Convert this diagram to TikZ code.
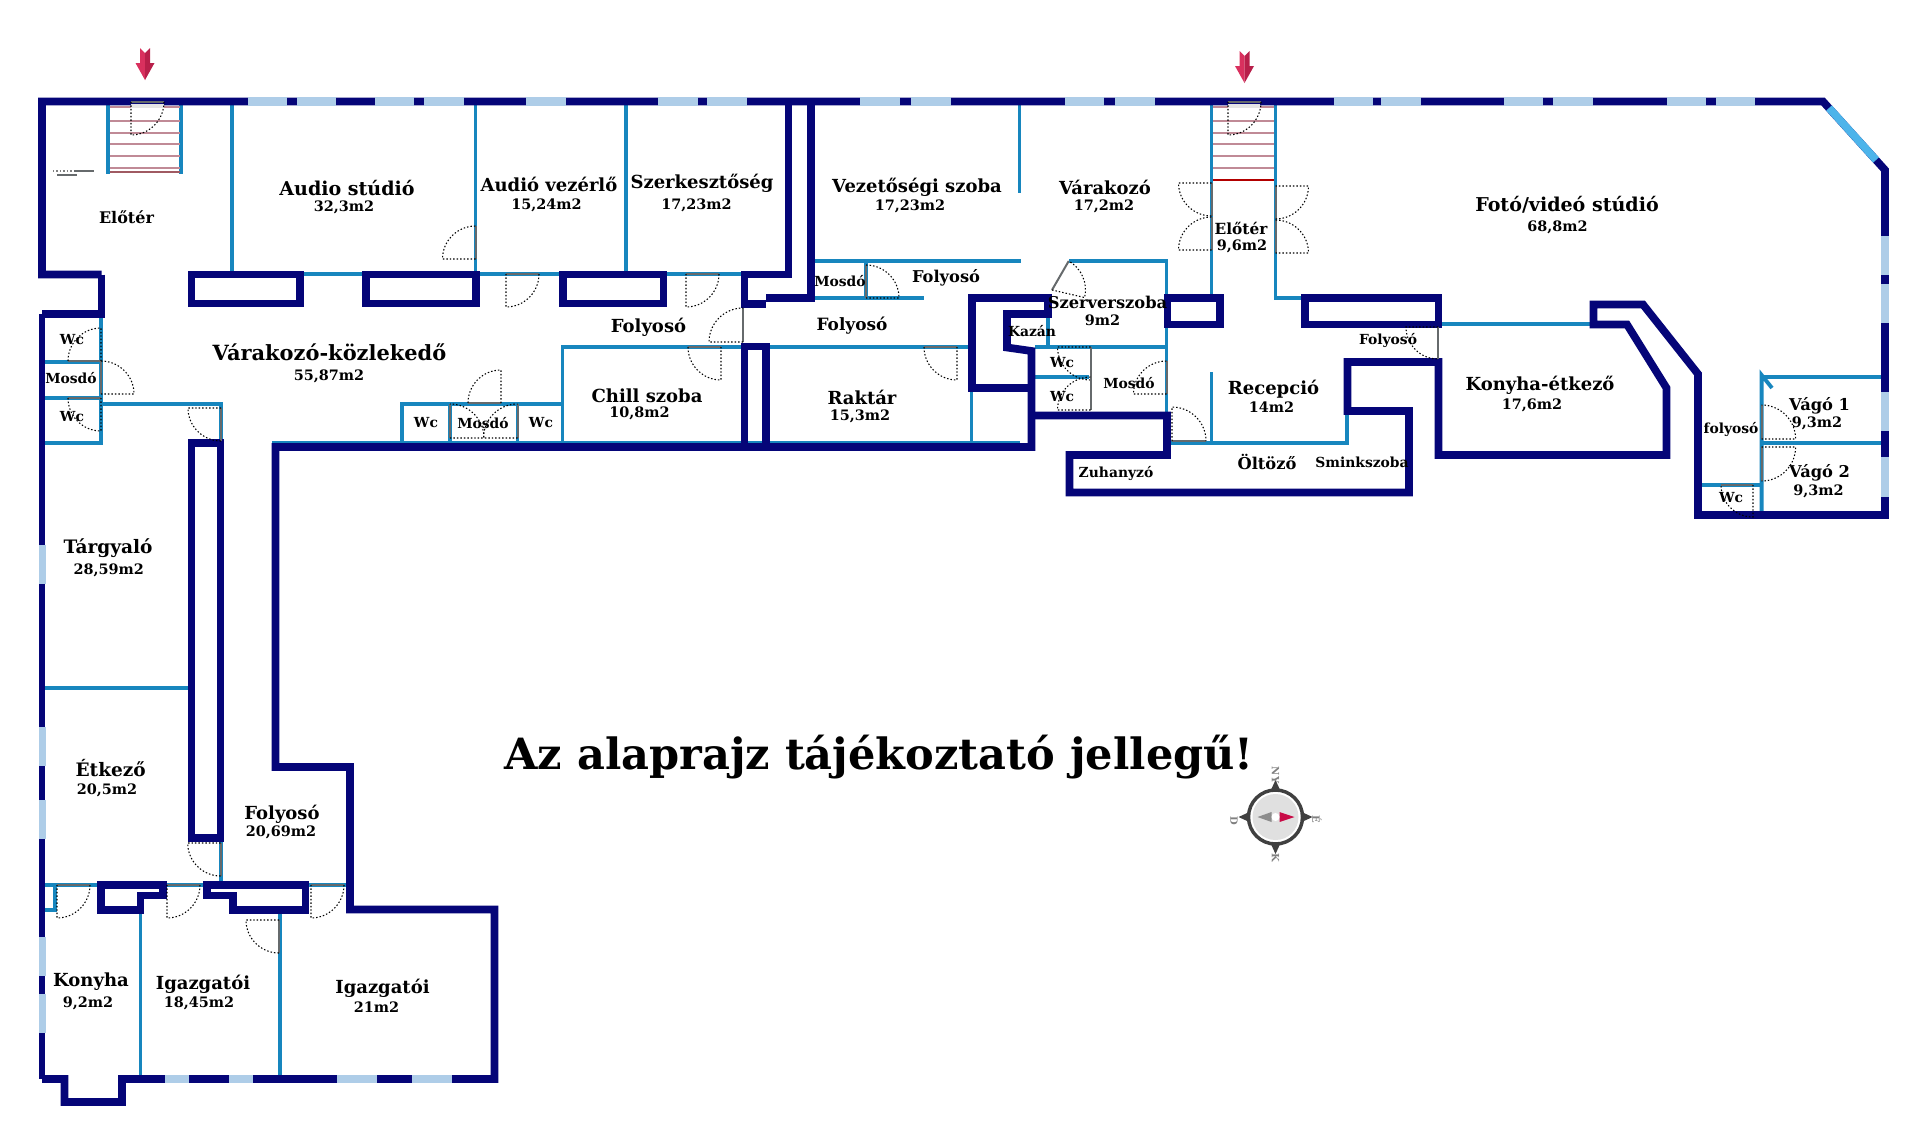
\documentclass[tikz,border=0pt]{standalone}
\usepackage{fontspec}
\setmainfont{DejaVu Serif}
\definecolor{wallnavy}{HTML}{050578}
\definecolor{partblue}{HTML}{1786BE}
\definecolor{glassblue}{HTML}{AECDE8}
\definecolor{chamferblue}{HTML}{4DB4EA}
\definecolor{stairred}{HTML}{C08A96}
\definecolor{stairdark}{HTML}{A05A62}
\definecolor{jambgray}{HTML}{666A6C}
\tikzset{
  wall/.style={draw=wallnavy, line width=5.8pt, line join=miter, line cap=square},
  partition/.style={draw=partblue, line width=2.9pt, line cap=butt},
  glass/.style={fill=glassblue, draw=none},
  stairline/.style={draw=stairred, line width=0.8pt},
  doorjamb/.style={draw=jambgray, line width=1.5pt},
  doorswing/.style={draw=black, line width=0.8pt, dash pattern=on 1.1pt off 1.5pt},
  namelabel/.style={inner sep=0pt, font=\bfseries\fontsize{13.5pt}{14pt}\selectfont},
  widelabel/.style={inner sep=0pt, font=\bfseries\fontsize{14.3pt}{15pt}\selectfont},
  bignamelabel/.style={inner sep=0pt, font=\bfseries\fontsize{15.7pt}{16pt}\selectfont},
  midlabel/.style={inner sep=0pt, font=\bfseries\fontsize{12.2pt}{13pt}\selectfont},
  arealabel/.style={inner sep=0pt, font=\bfseries\fontsize{10.8pt}{11pt}\selectfont},
  smalllabel/.style={inner sep=0pt, font=\bfseries\fontsize{10.4pt}{11pt}\selectfont},
  tinylabel/.style={inner sep=0pt, text=black!50, font=\bfseries\fontsize{7.5pt}{8pt}\selectfont, rotate=-90},
}
% hinge x, hinge y, jamb angle, leaf angle, radius
\newcommand{\door}[5]{
  \draw[doorjamb] (#1,#2) -- ++(#3:#5);
  \draw[doorswing] (#1,#2) -- ++(#4:#5) arc[start angle=#4, end angle=#3, radius=#5];
}
\newcommand{\entryarrow}[2]{
  \begin{scope}[shift={(#1,#2)}]
    \fill[fill={rgb,255:red,217;green,48;blue,94}] (-5,0) -- (0,5) -- (0,32) -- (-9.5,15) -- (-5,15) -- cycle;
    \fill[fill={rgb,255:red,184;green,31;blue,74}] (5,0) -- (0,5) -- (0,32) -- (9.5,15) -- (5,15) -- cycle;
  \end{scope}
}
\begin{document}
\begin{tikzpicture}[x=0.75pt, y=0.75pt, yscale=-1]
  \useasboundingbox (0,0) rectangle (1920,1136);
  % Partitions
  \draw[partition] (108,105) -- (108,174);
  \draw[partition] (181,105) -- (181,174);
  \draw[partition] (232,105) -- (232,271);
  \draw[partition] (475.5,105) -- (475.5,271);
  \draw[partition] (626,105) -- (626,271);
  \draw[partition] (304,274) -- (362,274);
  \draw[partition] (480,274) -- (559,274);
  \draw[partition] (667,274) -- (741,274);
  \draw[partition] (101,317) -- (101,443) -- (45,443);
  \draw[partition] (45,362) -- (101,362);
  \draw[partition] (45,398) -- (101,398);
  \draw[partition] (101,404) -- (221,404) -- (221,442);
  \draw[partition] (402,443) -- (402,404) -- (562.5,404);
  \draw[partition] (450,404) -- (450,443);
  \draw[partition] (517.5,404) -- (517.5,443);
  \draw[partition] (562.5,443) -- (562.5,347) -- (741,347);
  \draw[partition] (769,347) -- (968.5,347);
  \draw[partition] (272,442.5) -- (1020,442.5);
  \draw[partition] (815,261) -- (1021,261);
  \draw[partition] (815,298) -- (924,298);
  \draw[partition] (866,261) -- (866,298);
  \draw[partition] (1019.5,105) -- (1019.5,193);
  \draw[partition] (1069.3,261) -- (1166.5,261) -- (1166.5,412);
  \draw[partition] (1048,317) -- (1048,347);
  \draw[partition] (1035,347) -- (1166.5,347);
  \draw[partition] (1035,377) -- (1089,377);
  \draw[partition] (971.5,392) -- (971.5,443);
  \draw[partition] (1211.5,105) -- (1211.5,294);
  \draw[partition] (1275.5,105) -- (1275.5,298) -- (1301,298);
  \draw[partition] (1211.5,372) -- (1211.5,443);
  \draw[partition] (1171,443) -- (1347,443) -- (1347,414);
  \draw[partition] (1442,324) -- (1590,324);
  \draw[partition] (1772,388) -- (1761.6,375) -- (1761.6,511);
  \draw[partition] (1761,377) -- (1881,377);
  \draw[partition] (1761,443) -- (1881,443);
  \draw[partition] (1702,485) -- (1761,485);
  \draw[partition] (45,688) -- (188,688);
  \draw[partition] (45,885) -- (97,885);
  \draw[partition] (167,885) -- (203,885);
  \draw[partition] (309,885) -- (346,885);
  \draw[partition] (45,910) -- (55,910) -- (55,885);
  \draw[partition] (140.5,913) -- (140.5,1075);
  \draw[partition] (280,913) -- (280,1075);
  \draw[partition] (220.7,842) -- (220.7,881);
  % Outer walls
  \draw[wall] (101.5,274.5) -- (42,274.5) -- (42,101.5) -- (1823,101.5) -- (1885,170) -- (1885,515) -- (1698,515) -- (1698,374) -- (1643,304.5) -- (1593.5,304.5) -- (1593.5,324.5) -- (1627,324.5) -- (1666.5,388) -- (1666.5,455) -- (1438.5,455) -- (1438.5,362) -- (1347.5,362) -- (1347.5,411) -- (1409,411) -- (1409,492.5) -- (1069.5,492.5) -- (1069.5,455) -- (1167,455) -- (1167,415.5) -- (1031.5,415.5);
  \draw[wall] (101.5,274.5) -- (101.5,314) -- (42,314);
  \draw[wall, line width=4.6pt] (42,314) -- (42,1079);
  \draw[wall] (42,1079) -- (64.5,1079) -- (64.5,1102) -- (122,1102) -- (122,1079) -- (494.5,1079) -- (494.5,909.5) -- (350,909.5) -- (350,767) -- (275.5,767) -- (275.5,447) -- (1031.5,447) -- (1031.5,351) -- (1007,347.5) -- (1007,314) -- (1048,314) -- (1048,298) -- (972,298) -- (972,388) -- (1031.5,388);
  % Inner walls
  \draw[wall] (788.5,105) -- (788.5,274.5) -- (744.5,274.5) -- (744.5,304) -- (766,304);
  \draw[wall] (811,105) -- (811,298) -- (766,298);
  \draw[wall] (191.5,274.5) rectangle (300,303.5);
  \draw[wall] (366,274.5) rectangle (476,303.5);
  \draw[wall] (563,274.5) rectangle (663.5,303.5);
  \draw[wall] (744.5,346.5) rectangle (766,447);
  \draw[wall] (1167.5,298) rectangle (1220,324.5);
  \draw[wall] (1305,298) rectangle (1438.5,324.5);
  \draw[wall] (191.5,443) rectangle (220.5,838);
  \draw[wall] (101,885) -- (163,885) -- (163,895.5) -- (140.5,895.5) -- (140.5,910) -- (101,910) -- cycle;
  \draw[wall] (207,885) -- (305.5,885) -- (305.5,910) -- (233,910) -- (233,895.5) -- (207,895.5) -- cycle;
  % Windows
  \foreach \a/\b in {248/287,297/336,375/414,424/464,526/566,658/698,707/747,860/900,911/951,1064.5/1104,1115/1155,1334/1373,1381/1421,1504/1543,1553/1593,1667/1706,1715.5/1755}
    \fill[glass] (\a,97) rectangle (\b,106);
  \foreach \a/\b in {236/275,284/323,392/431,457/497}
    \fill[glass] (1881,\a) rectangle (1889,\b);
  \foreach \a/\b in {545/584,727/766,800/839,937/976,994/1033}
    \fill[glass] (38.5,\a) rectangle (45.5,\b);
  \foreach \a/\b in {165/189,229/253,337/377,412/452}
    \fill[glass] (\a,1075) rectangle (\b,1083);
  \draw[draw=chamferblue, line width=5.8pt] (1829,108) -- (1876,160);
  % Stairs
  \foreach \y in {107,121,133,144,156,168}
    \draw[stairline] (110,\y) -- (180,\y);
  \draw[stairline, draw=stairdark, line width=1.2pt] (110,172) -- (180,172);
  \foreach \y in {107,121,133,144,156,168}
    \draw[stairline] (1213,\y) -- (1274,\y);
  \draw[stairline, draw=red!70!black, line width=1.1pt] (1213,180) -- (1274,180);
  \fill[fill=black!10] (131,104) rectangle (164,108);
  \fill[fill=black!10] (1228,104) rectangle (1260,108);
  \draw[doorjamb, line width=2pt] (131,102) -- (164,102);
  \draw[doorjamb, line width=2pt] (1228,102) -- (1260,102);
  \draw[doorswing, draw=black!50] (53,171) -- (73,171);
  \draw[doorjamb] (74,171) -- (94,171);
  \draw[doorjamb] (57,174.5) -- (77,174.5);
  % Doors
  \door{131}{102}{0}{90}{33}
  \door{1228}{102}{0}{90}{33}
  \door{475.5}{259}{270}{180}{33}
  \door{506}{274}{0}{90}{33}
  \door{686}{274}{0}{90}{33}
  \door{743}{342}{270}{180}{34}
  \door{721}{347}{180}{90}{33}
  \door{957}{347}{180}{90}{33}
  \door{866}{298}{270}{360}{33}
  \door{1211.5}{183}{90}{180}{33}
  \door{1211.5}{250}{270}{180}{33}
  \door{1275.5}{186}{90}{0}{33}
  \door{1275.5}{253}{270}{360}{33}
  \door{1052}{290}{300}{373}{33.5}
  \door{1090.5}{347}{90}{180}{33}
  \door{1090.5}{410}{270}{180}{33}
  \door{1166.5}{394}{270}{180}{33}
  \door{1172}{441}{360}{270}{34}
  \door{1438}{327}{90}{180}{32}
  \door{1761.6}{439}{270}{360}{34}
  \door{1761.6}{447}{90}{0}{34}
  \door{1753}{485}{180}{90}{32}
  \door{101}{361}{180}{270}{33}
  \door{101}{394}{270}{360}{33}
  \door{101}{398}{180}{90}{33}
  \door{221}{408}{90}{180}{33}
  \door{501}{403}{180}{270}{33}
  \door{450}{438}{270}{360}{34}
  \door{517.5}{438}{270}{180}{34}
  \door{220.7}{843}{90}{180}{33}
  \door{57}{885}{0}{90}{33}
  \door{167}{885}{0}{90}{33}
  \door{311}{885}{0}{90}{33}
  \door{279}{920}{90}{180}{33}
  % Entrances
  \entryarrow{145}{48}
  \entryarrow{1244.5}{51}
  % Room names
  \node[smalllabel, font=\bfseries\fontsize{12pt}{13pt}\selectfont] (eloter) at (126.5,217) {Előtér};
  \node[widelabel] (audiostudio) at (347,188) {Audio stúdió};
  \node[arealabel] (audiostudioarea) at (344,207) {32,3m2};
  \node[namelabel] (audiovezerlo) at (549,184) {Audió vezérlő};
  \node[arealabel] (audiovezerloarea) at (546.5,205) {15,24m2};
  \node[namelabel] (szerkesztoseg) at (702,183.5) {Szerkesztőség};
  \node[arealabel] (szerkesztosegarea) at (696.5,205) {17,23m2};
  \node[namelabel] (vezetoseg) at (917,187) {Vezetőségi szoba};
  \node[arealabel] (vezetosegarea) at (910,206) {17,23m2};
  \node[namelabel] (varakozo) at (1105,187) {Várakozó};
  \node[arealabel] (varakozoarea) at (1104,206) {17,2m2};
  \node[midlabel, font=\bfseries\fontsize{11.5pt}{12pt}\selectfont] (eloterb) at (1241,228) {Előtér};
  \node[arealabel] (eloterbarea) at (1242,246) {9,6m2};
  \node[widelabel] (fotostudio) at (1567,205) {Fotó/videó stúdió};
  \node[arealabel] (fotostudioarea) at (1557.5,227) {68,8m2};
  \node[bignamelabel] (kozlekedo) at (329.5,352) {Várakozó-közlekedő};
  \node[arealabel] (kozlekedoarea) at (329,376) {55,87m2};
  \node[smalllabel] (wca) at (72,340) {Wc};
  \node[smalllabel] (mosdoa) at (71,378) {Mosdó};
  \node[smalllabel] (wcb) at (72,417) {Wc};
  \node[smalllabel] (wcc) at (426,423) {Wc};
  \node[smalllabel] (mosdob) at (483,423) {Mosdó};
  \node[smalllabel] (wcd) at (541,423) {Wc};
  \node[namelabel] (chill) at (647,395.5) {Chill szoba};
  \node[arealabel] (chillarea) at (639.5,413.5) {10,8m2};
  \node[namelabel] (folyosoa) at (648.5,327) {Folyosó};
  \node[smalllabel] (mosdoc) at (840,281) {Mosdó};
  \node[midlabel] (folyosob) at (946,277.5) {Folyosó};
  \node[namelabel, font=\bfseries\fontsize{12.7pt}{13pt}\selectfont] (folyosoc) at (852,326) {Folyosó};
  \node[midlabel] (szerver) at (1107.5,302) {Szerverszoba};
  \node[arealabel] (szerverarea) at (1102.5,320) {9m2};
  \node[smalllabel] (kazan) at (1032,331) {Kazán};
  \node[smalllabel] (wce) at (1062,362.5) {Wc};
  \node[smalllabel] (wcf) at (1062,397) {Wc};
  \node[smalllabel] (mosdod) at (1129,383.5) {Mosdó};
  \node[namelabel] (raktar) at (862,397) {Raktár};
  \node[arealabel] (raktararea) at (860,416) {15,3m2};
  \node[namelabel] (recepcio) at (1273.5,389) {Recepció};
  \node[arealabel] (recepcioarea) at (1271.5,407) {14m2};
  \node[smalllabel] (zuhanyzo) at (1116,473) {Zuhanyzó};
  \node[midlabel] (oltozo) at (1267,461.5) {Öltöző};
  \node[smalllabel] (smink) at (1362,462) {Sminkszoba};
  \node[smalllabel] (folyosod) at (1388,340) {Folyosó};
  \node[namelabel] (konyhaetkezo) at (1540,385) {Konyha-étkező};
  \node[arealabel] (konyhaetkezoarea) at (1532,405) {17,6m2};
  \node[smalllabel] (folyosoe) at (1731,429) {folyosó};
  \node[midlabel] (vagoa) at (1819.6,406) {Vágó 1};
  \node[arealabel] (vagoaarea) at (1817,423) {9,3m2};
  \node[midlabel] (vagob) at (1819.6,473) {Vágó 2};
  \node[arealabel] (vagobarea) at (1818.5,491) {9,3m2};
  \node[smalllabel] (wcg) at (1731,498) {Wc};
  \node[namelabel, font=\bfseries\fontsize{13.9pt}{14pt}\selectfont] (targyalo) at (108,548) {Tárgyaló};
  \node[arealabel] (targyaloarea) at (108.7,570) {28,59m2};
  \node[namelabel, font=\bfseries\fontsize{13.9pt}{14pt}\selectfont] (etkezo) at (110.7,768) {Étkező};
  \node[arealabel] (etkezoarea) at (107,790) {20,5m2};
  \node[namelabel] (folyosof) at (282,814) {Folyosó};
  \node[arealabel] (folyosofarea) at (281,832) {20,69m2};
  \node[namelabel] (konyha) at (91,982) {Konyha};
  \node[arealabel] (konyhaarea) at (88,1003) {9,2m2};
  \node[namelabel] (igazgatoia) at (203,984) {Igazgatói};
  \node[arealabel] (igazgatoiaarea) at (199,1003) {18,45m2};
  \node[namelabel] (igazgatoib) at (382.5,988) {Igazgatói};
  \node[arealabel] (igazgatoibarea) at (376.5,1007) {21m2};
  % Notice
  \node[inner sep=0pt, font=\bfseries\fontsize{32.3pt}{34pt}\selectfont] (notice) at (879,757) {Az alaprajz tájékoztató jellegű!};
  % Compass
  \fill[fill=black!75] (1275.5,780) -- (1281.5,793) -- (1269.5,793) -- cycle;
  \fill[fill=black!75] (1275.5,854) -- (1281.5,841) -- (1269.5,841) -- cycle;
  \fill[fill=black!75] (1312.5,817) -- (1299.5,823) -- (1299.5,811) -- cycle;
  \fill[fill=black!75] (1238.5,817) -- (1251.5,823) -- (1251.5,811) -- cycle;
  \draw[draw=black!75, fill=white, line width=2.6pt] (1275.5,817) circle (27);
  \fill[fill=black!12] (1275.5,817) circle (23);
  \fill[fill=black!45] (1257.5,817) -- (1271.5,812) -- (1271.5,822) -- cycle;
  \fill[fill={rgb,255:red,200;green,10;blue,70}] (1294.5,817) -- (1279.5,812) -- (1279.5,822) -- cycle;
  \fill[fill=white] (1275.5,817) circle (4);
  \node[tinylabel] (north) at (1275.5,775) {NY};
  \node[tinylabel] (east) at (1317,819) {É};
  \node[tinylabel] (south) at (1275.5,858) {K};
  \node[tinylabel] (west) at (1234,821) {D};
\end{tikzpicture}
\end{document}
